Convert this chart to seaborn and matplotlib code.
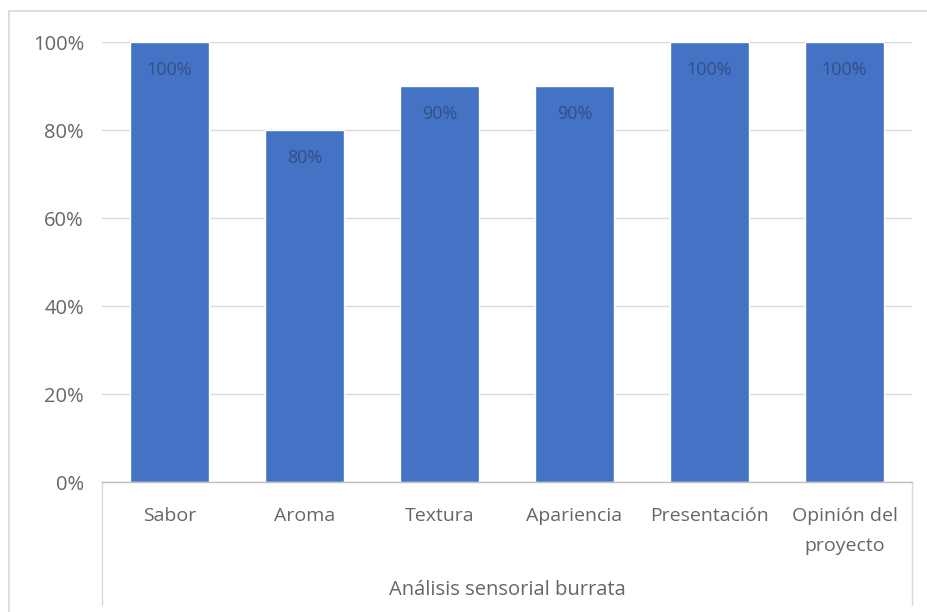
import matplotlib
matplotlib.use("Agg")
import matplotlib.pyplot as plt
import seaborn as sns
import pandas as pd
from matplotlib.lines import Line2D
from matplotlib.ticker import PercentFormatter

categories = ["Sabor", "Aroma", "Textura", "Apariencia", "Presentación", "Opinión del\nproyecto"]
values = [1.00, 0.80, 0.90, 0.90, 1.00, 1.00]
value_labels = ["100%", "80%", "90%", "90%", "100%", "100%"]
y_ticks = [0, 0.2, 0.4, 0.6, 0.8, 1.0]
axis_title = "Análisis sensorial burrata"

sns.set_theme(style="white")
plt.rcParams["font.family"] = ["Open Sans", "DejaVu Sans"]

W, H = 928, 612
fig = plt.figure(figsize=(W / 100, H / 100), dpi=100)
fig.patch.set_facecolor("white")

left, right, top, bottom = 102, 912, 42, 482
ax = fig.add_axes([left / W, 1 - bottom / H, (right - left) / W, (bottom - top) / H])

df = pd.DataFrame({"cat": categories, "val": values})
sns.barplot(data=df, x="cat", y="val", color="#4472C4", saturation=1, width=0.58, ax=ax, zorder=3)

ax.set_ylim(0, 1)
ax.set_xlim(-0.5, len(categories) - 0.5)
ax.set_yticks(y_ticks)
ax.yaxis.set_major_formatter(PercentFormatter(1.0, decimals=0))
ax.grid(axis="y", color="#D9D9D9", linewidth=1, zorder=0)
ax.set_axisbelow(True)

for s in ["top", "right", "left"]:
    ax.spines[s].set_visible(False)
ax.spines["bottom"].set_color("#BFBFBF")
ax.spines["bottom"].set_linewidth(1)
ax.spines["bottom"].set_zorder(4)

ax.tick_params(axis="y", length=0, pad=13, labelsize=14.5, labelcolor="#666666")
ax.tick_params(axis="x", length=0, pad=18, labelsize=14, labelcolor="#666666")
plt.setp(ax.get_xticklabels(), linespacing=1.85)
ax.set_xlabel("")
ax.set_ylabel("")

for patch, lab in zip(ax.patches, value_labels):
    cx = patch.get_x() + patch.get_width() / 2
    ax.annotate(lab, xy=(cx, patch.get_height()), xytext=(0, -20.5), textcoords="offset points",
                ha="center", va="center", fontsize=13, color="#33508A", zorder=5)

# category group dividers below the axis
depth = (605 - bottom) / (bottom - top)
for xv in (0, 1):
    ax.add_line(Line2D([xv, xv], [0, -depth], transform=ax.transAxes, color="#D9D9D9",
                       linewidth=1, clip_on=False))

ax.text(0.5, -(590 - bottom) / (bottom - top), axis_title, transform=ax.transAxes,
        ha="center", va="center", fontsize=14.5, color="#666666")

# chart frame
fig.add_artist(Line2D([9 / W, 9 / W], [0, 1 - 11 / H], transform=fig.transFigure, color="#D9D9D9", linewidth=1.2))
fig.add_artist(Line2D([9 / W, 1], [1 - 11 / H, 1 - 11 / H], transform=fig.transFigure, color="#D9D9D9", linewidth=1.2))

fig.savefig("out.png", dpi=100, facecolor="white")
